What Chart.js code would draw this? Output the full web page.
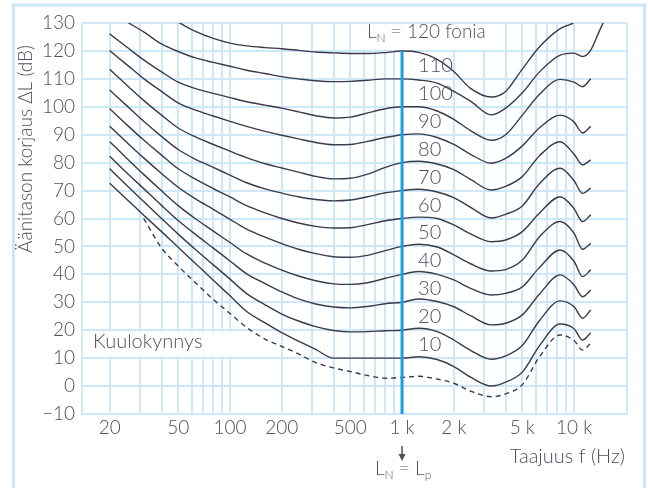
<!DOCTYPE html>
<html>
<head>
<meta charset="utf-8">
<script src="https://cdn.jsdelivr.net/npm/chart.js@4.4.0/dist/chart.umd.min.js"></script>
<style>
  html, body { margin: 0; padding: 0; background: #fff; }
</style>
</head>
<body>
<canvas id="chart" width="648" height="488"></canvas>
<script>
// Frequencies (Hz) shared by all contours
const freqs = [20, 25, 31.5, 40, 50, 63, 80, 100, 125, 160, 200, 250, 315, 400, 500, 630, 800,
               1000, 1250, 1600, 2000, 2500, 3300, 4000, 5000, 6300, 8300, 10000, 11200, 12500, 14000, 15500];

// Equal-loudness contours, dB
const phon120 = [null, null, null, 133.5, 130.3, 127, 124.5, 122.8, 121.8, 121.2, 120.8, 120.2, 119.6, 119.3, 119.1, 119.1, 119.4,
                 120, 119.5, 117, 112.6, 106.6, 103.5, 105.5, 113.5, 121.5, 128, 130.2, 133, 137, null, null];
const phon110 = [null, 130.5, 126.8, 122.5, 119.8, 117.5, 115.9, 114.5, 113.1, 111.9, 110.8, 110, 109.3, 109, 109.1, 109.5, 110,
                 110, 109.6, 108.5, 105.5, 102, 97.1, 99.5, 105, 112.5, 118.5, 119.2, 118, 120.3, 127, 133];
const phon100 = [126.1, 121.5, 116.8, 112.5, 108.8, 106.5, 104.8, 103.3, 101.8, 100.6, 99.5, 98.2, 96.8, 96, 96.3, 97.8, 99.3,
                 100, 100, 98.5, 95.5, 91.5, 88, 90, 97, 104.5, 109.8, 108.8, 107.2, 110, null, null];
const phon90 = [120.1, 115.2, 110.1, 105.5, 101.4, 98.8, 96.7, 94.8, 93, 91.2, 89.8, 88.5, 87.2, 86.4, 86.5, 87.6, 89,
                90, 90.3, 89, 86.5, 83, 79.8, 81.5, 86, 92.5, 97, 94.5, 90.6, 93, null, null];
const phon80 = [113.4, 107.9, 102.3, 97, 92.4, 89.2, 86.5, 84.1, 81.8, 79.6, 78.1, 76.6, 75.1, 74.2, 74.4, 75.9, 78.3,
                80, 80.5, 79.5, 77.5, 74, 70.2, 71.5, 75, 82.5, 87.5, 83, 79.2, 81, null, null];
const phon70 = [106, 100.5, 94.8, 89.4, 84.7, 81.2, 78.3, 75.5, 72.8, 70.6, 69.1, 67.8, 66.8, 66.3, 66.6, 67.8, 69.2,
                70, 70.5, 69.5, 67.5, 64, 60.2, 61.5, 64.5, 72.5, 78, 73.5, 69, 70.9, null, null];
const phon60 = [99.3, 93.7, 88.1, 82.7, 77.8, 74.1, 70.7, 67.7, 64.6, 62, 60, 58.4, 57.2, 56.6, 56.7, 57.8, 59.2,
                60, 60.5, 60, 57.7, 54.5, 51.7, 52.3, 55.3, 62, 67.8, 63.5, 58.9, 61.3, null, null];
const phon50 = [93, 87.4, 81.7, 76.1, 71.2, 67, 63.3, 59.7, 56.2, 53.3, 51, 49, 47.4, 46.3, 46.1, 46.8, 48.5,
                50, 50.8, 49.8, 47, 43.8, 41.2, 41.7, 45.1, 53.5, 58.9, 54.7, 49, 51.1, null, null];
const phon40 = [87.5, 81.7, 75.8, 69.9, 64.6, 59.9, 55.5, 51.4, 47.3, 44, 41.5, 39.4, 37.7, 36.6, 36.4, 37, 38.6,
                40, 41, 40, 38, 35, 32.6, 33.2, 35.5, 42.5, 48.7, 44.6, 39.2, 41.6, null, null];
const phon30 = [82.3, 76.5, 70.7, 64.7, 59.3, 54.3, 49.4, 44.8, 40.2, 36.7, 33.7, 31.2, 29.4, 28.3, 28, 28.5, 29.5,
                30, 31.2, 30.3, 28.4, 25.2, 21.9, 22.5, 25.5, 33, 39.8, 36.2, 32, 34.4, null, null];
const phon20 = [77.8, 72, 66.1, 60, 54.4, 48.9, 43.4, 38.3, 33.1, 29.1, 25.8, 23.3, 21.3, 19.9, 19.4, 19.5, 19.8,
                20, 20.7, 19.5, 16.5, 12.8, 9.6, 10.8, 14.5, 23.5, 30.5, 28.4, 24.3, 27.2, null, null];
const phon10 = [72.6, 67, 61.2, 55.3, 49.7, 43.9, 37.9, 32.3, 26.7, 22.6, 19.1, 16.1, 13.1, 10, 10, 10, 10,
                10, 10.5, 9.5, 7, 3.2, 0, 1.4, 5, 14.5, 22.2, 20.5, 16.5, 19.1, null, null];
const threshold = [null, null, 60, 49.5, 43, 37, 31, 26, 21, 16.8, 14.2, 11.5, 8.4, 6.5, 5.2, 3.8, 2.8,
                   3.1, 3.5, 2.5, 1, -1.8, -3.8, -2.8, 0.5, 10.5, 18.3, 16.3, 12.9, 15.3, null, null];

const levels = [120, 110, 100, 90, 80, 70, 60, 50, 40, 30, 20, 10];
const contours = [phon120, phon110, phon100, phon90, phon80, phon70, phon60, phon50, phon40, phon30, phon20, phon10];

// Axes
const gridFreqs = [20, 30, 40, 50, 60, 70, 80, 90, 100, 200, 300, 400, 500, 600, 700, 800, 900,
                   1000, 2000, 3000, 4000, 5000, 6000, 7000, 8000, 9000, 10000];
const xTickValues = [20, 50, 100, 200, 500, 1000, 2000, 5000, 10000];
const xTickLabels = ['20', '50', '100', '200', '500', '1 k', '2 k', '5 k', '10 k'];

const GRID = '#cfe8f8';
const INK = '#4e4e60';
const LINE = '#3a3a4c';
const BLUE = '#1aa0de';
const FONT = 'Lato, "Open Sans", sans-serif';

const toPoints = vals => freqs.map((f, i) => ({ x: f, y: vals[i] }));

const datasets = contours.map((vals, i) => ({
    label: levels[i] + ' fonia',
    data: toPoints(vals),
    borderColor: LINE,
    borderWidth: 1.4,
    pointRadius: 0,
    fill: false,
    cubicInterpolationMode: 'monotone'
}));
datasets.push({
    label: 'Kuulokynnys',
    data: toPoints(threshold),
    borderColor: LINE,
    borderWidth: 1.4,
    borderDash: [5, 4],
    pointRadius: 0,
    fill: false,
    cubicInterpolationMode: 'monotone'
});

// "L" + subscript + rest, returns end x
function subText(ctx, x, base, main, sub, rest, size) {
    ctx.font = `300 ${size}px ${FONT}`;
    ctx.fillText(main, x, base);
    x += ctx.measureText(main).width;
    ctx.font = `300 ${Math.round(size * 0.62)}px ${FONT}`;
    ctx.fillText(sub, x, base + 4);
    x += ctx.measureText(sub).width;
    ctx.font = `300 ${size}px ${FONT}`;
    ctx.fillText(rest, x, base);
    return x + ctx.measureText(rest).width;
}

const decor = {
    id: 'decor',
    beforeDraw(chart) {
        const ctx = chart.ctx;
        ctx.save();
        ctx.fillStyle = '#fff';
        ctx.fillRect(0, 0, chart.width, chart.height);
        ctx.strokeStyle = GRID;
        ctx.lineWidth = 3;
        ctx.strokeRect(13.5, 5, 631, 520);
        ctx.restore();
    },
    beforeDatasetsDraw(chart) {
        const { ctx, chartArea: a, scales: { y } } = chart;
        ctx.save();
        // white boxes behind the labels
        ctx.fillStyle = '#fff';
        const y20 = y.getPixelForValue(20), y10 = y.getPixelForValue(10);
        ctx.fillRect(a.left + 1, y20 + 1.5, 270 - a.left, y10 - y20 - 3);
        const y130 = y.getPixelForValue(130), y120 = y.getPixelForValue(120);
        ctx.fillRect(358, y130 + 1.5, 140, y120 - y130 - 3);
        // plot frame
        ctx.strokeStyle = GRID;
        ctx.lineWidth = 2;
        ctx.strokeRect(a.left, a.top, a.right - a.left, a.bottom - a.top);
        ctx.restore();
    },
    afterDatasetsDraw(chart) {
        const { ctx, chartArea: a, scales: { x, y } } = chart;
        const x1k = x.getPixelForValue(1000);
        ctx.save();
        // 1 kHz reference line
        ctx.strokeStyle = BLUE;
        ctx.lineWidth = 3;
        ctx.beginPath();
        ctx.moveTo(x1k, y.getPixelForValue(120));
        ctx.lineTo(x1k, a.bottom);
        ctx.stroke();

        ctx.fillStyle = INK;
        ctx.textAlign = 'left';
        ctx.textBaseline = 'alphabetic';

        // contour labels
        ctx.font = `300 20px ${FONT}`;
        levels.slice(1).forEach(L => {
            ctx.fillText(String(L), x1k + 16, y.getPixelForValue(L + 5) + 7);
        });
        subText(ctx, 367, 38, 'L', 'N', ' = 120 fonia', 19);

        ctx.font = `300 20px ${FONT}`;
        ctx.fillText('Kuulokynnys', 93, 348);

        // x axis title
        ctx.textAlign = 'right';
        ctx.fillText('Taajuus f (Hz)', 625, 463);

        // arrow and L_N = L_p
        ctx.strokeStyle = INK;
        ctx.lineWidth = 1.5;
        ctx.beginPath();
        ctx.moveTo(x1k, 446);
        ctx.lineTo(x1k, 456);
        ctx.stroke();
        ctx.beginPath();
        ctx.moveTo(x1k - 3.5, 454);
        ctx.lineTo(x1k + 3.5, 454);
        ctx.lineTo(x1k, 461);
        ctx.closePath();
        ctx.fill();
        ctx.textAlign = 'left';
        const x2 = subText(ctx, 375, 475, 'L', 'N', ' = ', 19);
        subText(ctx, x2, 475, 'L', 'p', '', 19);

        // y axis title
        ctx.translate(32, 253);
        ctx.rotate(-Math.PI / 2);
        ctx.font = `300 19px ${FONT}`;
        ctx.fillText('Äänitason korjaus ΔL (dB)', 0, 0);
        ctx.restore();
    }
};

new Chart(document.getElementById('chart'), {
    type: 'line',
    data: { datasets },
    options: {
        responsive: false,
        animation: false,
        layout: { padding: { left: 0, right: 21, top: 23, bottom: 0 } },
        plugins: { legend: { display: false }, tooltip: { enabled: false } },
        scales: {
            x: {
                type: 'logarithmic',
                min: 13.8,
                max: 20300,
                afterBuildTicks: s => { s.ticks = gridFreqs.map(v => ({ value: v })); },
                afterFit: s => { s.height = 74; },
                grid: { color: GRID, lineWidth: 2, drawTicks: false },
                border: { display: false },
                ticks: {
                    autoSkip: false,
                    maxRotation: 0,
                    padding: 2,
                    color: INK,
                    font: { family: FONT, size: 19, weight: 300 },
                    callback: v => {
                        const i = xTickValues.indexOf(v);
                        return i >= 0 ? xTickLabels[i] : '';
                    }
                }
            },
            y: {
                min: -10,
                max: 130,
                afterFit: s => { s.width = 82; },
                grid: { color: GRID, lineWidth: 2, drawTicks: false },
                border: { display: false },
                ticks: {
                    stepSize: 10,
                    padding: 7,
                    color: INK,
                    font: { family: FONT, size: 19, weight: 300 },
                    callback: v => v < 0 ? '\u2212' + Math.abs(v) : String(v)
                }
            }
        }
    },
    plugins: [decor]
});
</script>
</body>
</html>
